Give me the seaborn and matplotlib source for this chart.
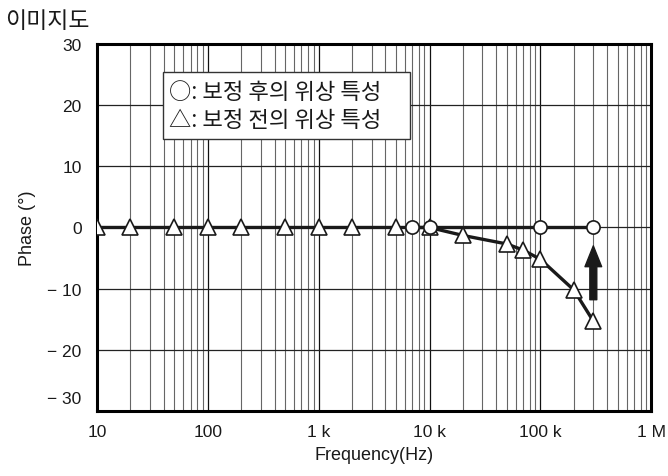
import numpy as np
import pandas as pd
import matplotlib
matplotlib.use("Agg")
import matplotlib.pyplot as plt
import matplotlib.transforms as mtransforms
from matplotlib.patches import Rectangle
from matplotlib.ticker import LogLocator, NullFormatter
import seaborn as sns

# data
tri_freq = [10, 20, 50, 100, 200, 500, 1e3, 2e3, 5e3, 1e4, 2e4, 5e4, 7e4, 1e5, 2e5, 3e5]
tri_phase = [0, 0, 0, 0, 0, 0, 0, 0, 0, 0, -1.3, -2.7, -3.7, -5.2, -10.2, -15.3]
circ_freq = [7e3, 1e4, 1e5, 3e5]
circ_phase = [0, 0, 0, 0]

xticks = [10, 100, 1e3, 1e4, 1e5, 1e6]
xticklabels = ['10', '100', '1 k', '10 k', '100 k', '1 M']
yticks = [-30, -20, -10, 0, 10, 20, 30]
yticklabels = ['− 30', '− 20', '− 10', '0', '10', '20', '30']
legend_lines = ['○: 보정 후의 위상 특성', '△: 보정 전의 위상 특성']

sns.set_style('white')
plt.rcParams['font.family'] = ['Liberation Sans', 'Noto Sans CJK KR', 'DejaVu Sans']
kr_font = ['Noto Sans CJK KR', 'DejaVu Sans']

fig = plt.figure(figsize=(6.68, 4.77), dpi=100)
ax = fig.add_axes([0.145, 0.136, 0.83, 0.77])

tri = pd.DataFrame({'f': tri_freq, 'p': tri_phase})
circ = pd.DataFrame({'f': circ_freq, 'p': circ_phase})

sns.lineplot(data=tri, x='f', y='p', ax=ax, color='#1a1a1a', linewidth=2.4,
             marker='^', markersize=11, markerfacecolor='white',
             markeredgecolor='#1a1a1a', markeredgewidth=1.2, zorder=4)
sns.lineplot(data=circ, x='f', y='p', ax=ax, color='#1a1a1a', linewidth=2.4,
             marker='o', markersize=9.5, markerfacecolor='white',
             markeredgecolor='#1a1a1a', markeredgewidth=1.2, zorder=5)

ax.set_xscale('log')
ax.set_xlim(10, 1e6)
ax.set_ylim(-30, 30)
ax.set_xticks(xticks)
ax.set_xticklabels(xticklabels)
ax.xaxis.set_minor_locator(LogLocator(base=10, subs=np.arange(2, 10)))
ax.xaxis.set_minor_formatter(NullFormatter())
ax.set_yticks(yticks)
ax.set_yticklabels(yticklabels)
ax.tick_params(axis='both', which='both', length=0, labelsize=12.5, colors='#1a1a1a')
ax.tick_params(axis='y', pad=11)
ax.tick_params(axis='x', pad=9)

# lift the bottom y label a bit, like the original
lbl = ax.get_yticklabels()[0]
lbl.set_transform(lbl.get_transform() + mtransforms.ScaledTranslation(0, 14 / 100, fig.dpi_scale_trans))

ax.grid(True, which='major', axis='x', color='#111111', linewidth=0.9, zorder=1)
ax.grid(True, which='minor', axis='x', color='#666666', linewidth=0.8, zorder=1)
ax.grid(True, which='major', axis='y', color='#222222', linewidth=0.9, zorder=1)
ax.set_axisbelow(True)

for s in ax.spines.values():
    s.set_visible(True)
    s.set_color('black')
    s.set_linewidth(2.2)

ax.set_xlabel('Frequency(Hz)', fontsize=13, labelpad=5, color='#1a1a1a')
ax.set_ylabel('Phase (°)', fontsize=13, labelpad=8, color='#1a1a1a')

# correction arrow
ax.annotate('', xy=(3e5, -3.0), xytext=(3e5, -11.8),
            arrowprops=dict(arrowstyle='simple,head_length=1.5,head_width=1.2,tail_width=0.5',
                            color='#1a1a1a', mutation_scale=10, shrinkA=0, shrinkB=0), zorder=6)

# legend box (drawn as a plain frame + text, the original has no line samples)
ax.add_patch(Rectangle((0.119, 0.741), 0.446, 0.183, transform=ax.transAxes,
                       facecolor='white', edgecolor='#333333', linewidth=1.0, zorder=7))
ax.text(0.131, 0.8325, '\n'.join(legend_lines), transform=ax.transAxes, family=kr_font,
        fontsize=16, va='center', ha='left', linespacing=1.3, zorder=8, color='#1a1a1a')

fig.text(0.008, 0.955, '이미지도', fontsize=16.5, ha='left', va='center', family=kr_font, color='#1a1a1a')

fig.savefig('out.png', dpi=100)
